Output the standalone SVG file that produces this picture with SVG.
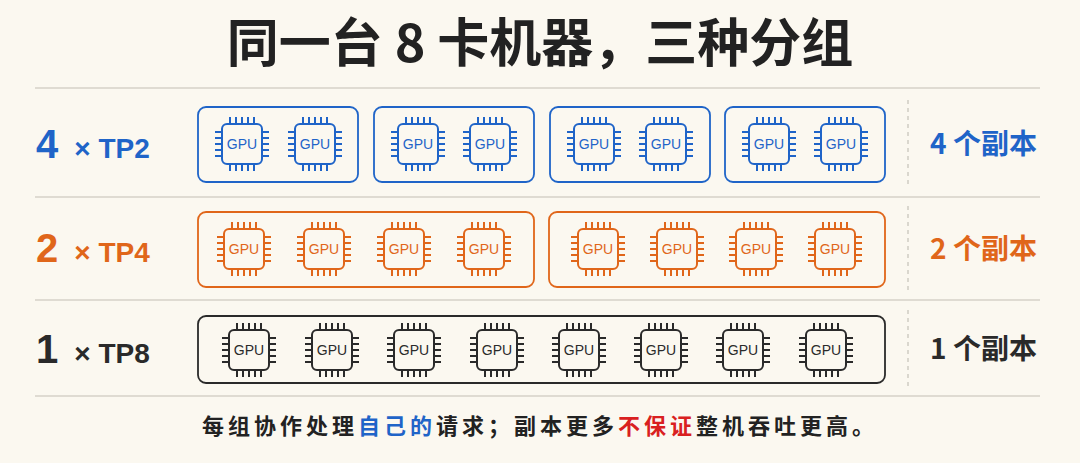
<svg xmlns="http://www.w3.org/2000/svg" xmlns:xlink="http://www.w3.org/1999/xlink" width="1080" height="463" viewBox="0 0 1080 463">
<style>
text{font-family:"Noto Sans CJK SC","Liberation Sans",sans-serif;font-weight:bold}
.lbl{font-family:"Liberation Sans","Noto Sans CJK SC",sans-serif}
.sep{stroke:#d6d2c8;stroke-width:1.5}
.dash{stroke:#cfcbc2;stroke-width:1.5;stroke-dasharray:4 4}
.box{fill:none;stroke-width:1.8}
.b{color:#1f64c8}.o{color:#e0661a}.k{color:#2a2a2a}
</style>
<defs>
<symbol id="chip" overflow="visible">
<g stroke="currentColor" stroke-width="2" fill="none">
<rect x="-20" y="-20" width="40" height="40" rx="5"/>
<path d="M-12-20v-7M-6-20v-7M0-20v-7M6-20v-7M12-20v-7M-12 20v7M-6 20v7M0 20v7M6 20v7M12 20v7M-20-12h-7M-20-6h-7M-20 0h-7M-20 6h-7M-20 12h-7M20-12h7M20-6h7M20 0h7M20 6h7M20 12h7"/>
</g>
<text y="5" text-anchor="middle" fill="currentColor" style="font-family:'Liberation Sans',sans-serif;font-weight:normal;font-size:14px">GPU</text>
</symbol>
</defs>
<rect width="1080" height="463" fill="#fbf8f0"/>
<text x="540" y="62" text-anchor="middle" font-size="52" fill="#222">同一台 8 卡机器，三种分组</text>
<g id="separators">
<line class="sep" x1="35" y1="88" x2="1040" y2="88"/>
<line class="sep" x1="35" y1="197" x2="1040" y2="197"/>
<line class="sep" x1="35" y1="300" x2="1040" y2="300"/>
<line class="sep" x1="35" y1="396" x2="1040" y2="396"/>
<line class="dash" x1="908" y1="100" x2="908" y2="188"/>
<line class="dash" x1="908" y1="206" x2="908" y2="292"/>
<line class="dash" x1="908" y1="310" x2="908" y2="388"/>
</g>
<g id="row-tp2" class="b">
<text class="lbl" x="36" y="158" font-size="40" fill="currentColor">4<tspan font-size="28" dx="16">× TP2</tspan></text>
<rect class="box" stroke="currentColor" x="198" y="107" width="160" height="75" rx="8"/>
<rect class="box" stroke="currentColor" x="374" y="107" width="160" height="75" rx="8"/>
<rect class="box" stroke="currentColor" x="550" y="107" width="160" height="75" rx="8"/>
<rect class="box" stroke="currentColor" x="725" y="107" width="160" height="75" rx="8"/>
<use href="#chip" x="242" y="144"/><use href="#chip" x="315" y="144"/>
<use href="#chip" x="418" y="144"/><use href="#chip" x="490" y="144"/>
<use href="#chip" x="594" y="144"/><use href="#chip" x="666" y="144"/>
<use href="#chip" x="769" y="144"/><use href="#chip" x="841" y="144"/>
<text x="930" y="154" font-size="28" fill="currentColor">4 个副本</text>
</g>
<g id="row-tp4" class="o">
<text class="lbl" x="36" y="262" font-size="40" fill="currentColor">2<tspan font-size="28" dx="16">× TP4</tspan></text>
<rect class="box" stroke="currentColor" x="198" y="212" width="336" height="75" rx="8"/>
<rect class="box" stroke="currentColor" x="549" y="212" width="336" height="75" rx="8"/>
<use href="#chip" x="244" y="249"/><use href="#chip" x="324" y="249"/><use href="#chip" x="404" y="249"/><use href="#chip" x="484" y="249"/>
<use href="#chip" x="598" y="249"/><use href="#chip" x="677" y="249"/><use href="#chip" x="756" y="249"/><use href="#chip" x="835" y="249"/>
<text x="930" y="259" font-size="28" fill="currentColor">2 个副本</text>
</g>
<g id="row-tp8" class="k">
<text class="lbl" x="36" y="363" font-size="40" fill="currentColor">1<tspan font-size="28" dx="16">× TP8</tspan></text>
<rect class="box" stroke="currentColor" x="198" y="316" width="687" height="67" rx="8"/>
<use href="#chip" x="249" y="350"/><use href="#chip" x="332" y="350"/><use href="#chip" x="414" y="350"/><use href="#chip" x="497" y="350"/>
<use href="#chip" x="579" y="350"/><use href="#chip" x="661" y="350"/><use href="#chip" x="743" y="350"/><use href="#chip" x="826" y="350"/>
<text x="930" y="359" font-size="28" fill="currentColor">1 个副本</text>
</g>
<text x="540" y="434" text-anchor="middle" font-size="22" letter-spacing="4" fill="#222">每组协作处理<tspan fill="#1f64c8">自己的</tspan>请求；副本更多<tspan fill="#d92020">不保证</tspan>整机吞吐更高。</text>
</svg>
